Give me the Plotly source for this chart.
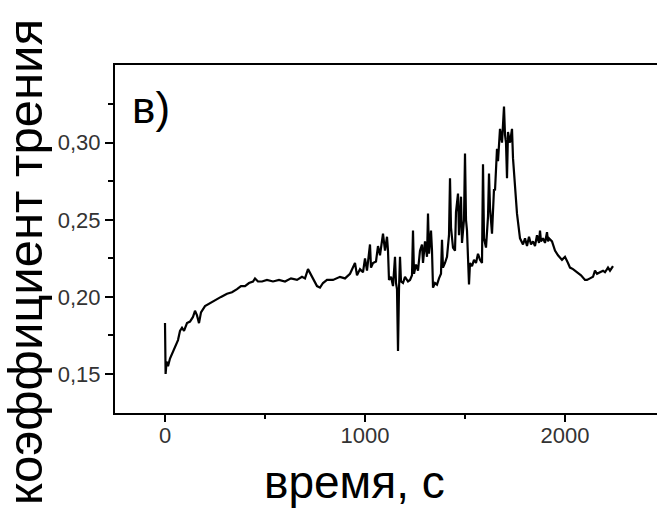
import plotly.graph_objects as go

# time, s
time = [
    0, 0, 3, 8, 15, 25, 35, 50, 65, 75,
    85, 95, 110, 125, 140, 150, 160, 170, 180, 200,
    225, 250, 280, 310, 335, 360, 380, 400, 420, 440,
    450, 465, 485, 510, 540, 570, 600, 630, 660, 685,
    700, 715, 730, 745, 760, 775, 790, 810, 840, 875,
    900, 925, 950, 960, 975, 990, 1000, 1010, 1025, 1030,
    1040, 1055, 1065, 1075, 1085, 1090, 1100, 1110, 1115, 1120,
    1130, 1140, 1150, 1155, 1160, 1165, 1170, 1175, 1180, 1190,
    1200, 1215, 1225, 1235, 1240, 1245, 1255, 1265, 1275, 1285,
    1290, 1300, 1310, 1315, 1320, 1330, 1335, 1340, 1350, 1360,
    1370, 1380, 1385, 1390, 1400, 1410, 1420, 1425, 1430, 1440,
    1450, 1455, 1465, 1470, 1480, 1485, 1495, 1500, 1505, 1510,
    1520, 1525, 1535, 1545, 1555, 1565, 1575, 1585, 1590, 1595,
    1605, 1615, 1620, 1625, 1635, 1645, 1650, 1660, 1665, 1670,
    1675, 1685, 1690, 1695, 1700, 1705, 1710, 1715, 1725, 1735,
    1740, 1750, 1760, 1775, 1790, 1800, 1810, 1820, 1830, 1840,
    1850, 1860, 1870, 1875, 1880, 1890, 1900, 1910, 1915, 1920,
    1935, 1950, 1965, 1985, 2000, 2015, 2025, 2040, 2060, 2080,
    2100, 2110, 2125, 2140, 2150, 2160, 2175, 2190, 2200, 2215,
    2225, 2240,
]

# friction coefficient
friction = [
    0.183, 0.155, 0.150, 0.158, 0.155, 0.160, 0.163, 0.168, 0.172, 0.178,
    0.180, 0.178, 0.183, 0.184, 0.187, 0.191, 0.188, 0.183, 0.190, 0.194,
    0.196, 0.198, 0.200, 0.202, 0.203, 0.205, 0.207, 0.207, 0.209, 0.210,
    0.212, 0.210, 0.210, 0.211, 0.210, 0.211, 0.210, 0.212, 0.211, 0.213,
    0.212, 0.218, 0.214, 0.211, 0.207, 0.206, 0.209, 0.211, 0.211, 0.213,
    0.212, 0.215, 0.222, 0.214, 0.218, 0.216, 0.225, 0.217, 0.234, 0.219,
    0.222, 0.223, 0.233, 0.227, 0.238, 0.241, 0.230, 0.239, 0.230, 0.211,
    0.213, 0.207, 0.226, 0.209, 0.205, 0.165, 0.205, 0.226, 0.210, 0.209,
    0.213, 0.210, 0.211, 0.214, 0.243, 0.215, 0.221, 0.217, 0.230, 0.234,
    0.222, 0.236, 0.226, 0.254, 0.228, 0.243, 0.230, 0.206, 0.209, 0.208,
    0.212, 0.215, 0.237, 0.219, 0.222, 0.226, 0.240, 0.277, 0.245, 0.232,
    0.230, 0.255, 0.267, 0.240, 0.265, 0.235, 0.250, 0.293, 0.250, 0.243,
    0.208, 0.222, 0.220, 0.224, 0.222, 0.228, 0.224, 0.222, 0.286, 0.238,
    0.232, 0.252, 0.280, 0.258, 0.241, 0.270, 0.269, 0.296, 0.288, 0.300,
    0.309, 0.300, 0.315, 0.3235, 0.305, 0.300, 0.277, 0.307, 0.300, 0.309,
    0.290, 0.269, 0.254, 0.238, 0.234, 0.238, 0.233, 0.239, 0.234, 0.236,
    0.233, 0.240, 0.235, 0.243, 0.236, 0.238, 0.235, 0.242, 0.236, 0.238,
    0.236, 0.230, 0.227, 0.224, 0.226, 0.222, 0.219, 0.218, 0.216, 0.214,
    0.211, 0.211, 0.212, 0.213, 0.217, 0.215, 0.216, 0.217, 0.216, 0.219,
    0.217, 0.220,
]

x_tick_vals = [0, 1000, 2000]
x_tick_text = ["0", "1000", "2000"]
x_minor_vals = [500, 1500]
y_tick_vals = [0.15, 0.20, 0.25, 0.30]
y_tick_text = ["0,15", "0,20", "0,25", "0,30"]
y_minor_vals = [0.175, 0.225, 0.275, 0.325]

x_title = "время, с"
y_title = "коэффициент трения"
panel_label = "в)"

FONT = "Liberation Sans, Arial, sans-serif"

fig = go.Figure()
fig.add_trace(go.Scatter(
    x=time, y=friction, mode="lines",
    line=dict(color="black", width=2.2),
    showlegend=False, hoverinfo="skip",
))

# the plot frame runs past the right edge of the 657px window, as in the reference
fig.update_layout(
    width=667, height=510,
    margin=dict(l=115, r=0, t=65, b=97),
    paper_bgcolor="white", plot_bgcolor="white",
    font=dict(family=FONT, color="#222"),
    showlegend=False,
)

fig.update_xaxes(
    range=[-250, 2510],
    showline=True, linecolor="black", linewidth=2, mirror=True,
    showgrid=False, zeroline=False,
    tickmode="array", tickvals=x_tick_vals, ticktext=x_tick_text,
    ticks="outside", ticklen=7, tickwidth=1.5, tickcolor="black",
    tickfont=dict(size=22, family=FONT, color="#333"),
    ticklabelstandoff=-5,
    minor=dict(tickmode="array", tickvals=x_minor_vals, ticks="outside",
               ticklen=4, tickwidth=1.5, tickcolor="black", showgrid=False),
)
fig.update_yaxes(
    range=[0.1247, 0.3504],
    showline=True, linecolor="black", linewidth=2, mirror=False,
    showgrid=False, zeroline=False,
    tickmode="array", tickvals=y_tick_vals, ticktext=y_tick_text,
    ticks="outside", ticklen=8, tickwidth=1.5, tickcolor="black",
    tickfont=dict(size=22, family=FONT, color="#333"),
    minor=dict(tickmode="array", tickvals=y_minor_vals, ticks="outside",
               ticklen=5, tickwidth=1.5, tickcolor="black", showgrid=False),
)

# paper coordinates relative to the 552px-wide plot area
fig.add_annotation(
    text=x_title, xref="paper", yref="paper",
    x=(354 - 115) / 552, y=-0.198, xanchor="center", yanchor="middle",
    showarrow=False, font=dict(size=46, family=FONT, color="black"),
)
fig.add_annotation(
    text=y_title, xref="paper", yref="paper", textangle=-90,
    x=(25 - 115) / 552, y=0.434, xanchor="center", yanchor="middle",
    showarrow=False, font=dict(size=49, family=FONT, color="black"),
)
fig.add_annotation(
    text=panel_label, xref="paper", yref="paper",
    x=(151 - 115) / 552, y=0.879, xanchor="center", yanchor="middle",
    showarrow=False, font=dict(size=44, family=FONT, color="black"),
)

fig.write_html(
    "out.html",
    config={"displayModeBar": False},
    post_script=(
        "document.body.style.margin='0';"
        "document.body.style.overflow='hidden';"
        "document.documentElement.style.overflow='hidden';"
    ),
)
